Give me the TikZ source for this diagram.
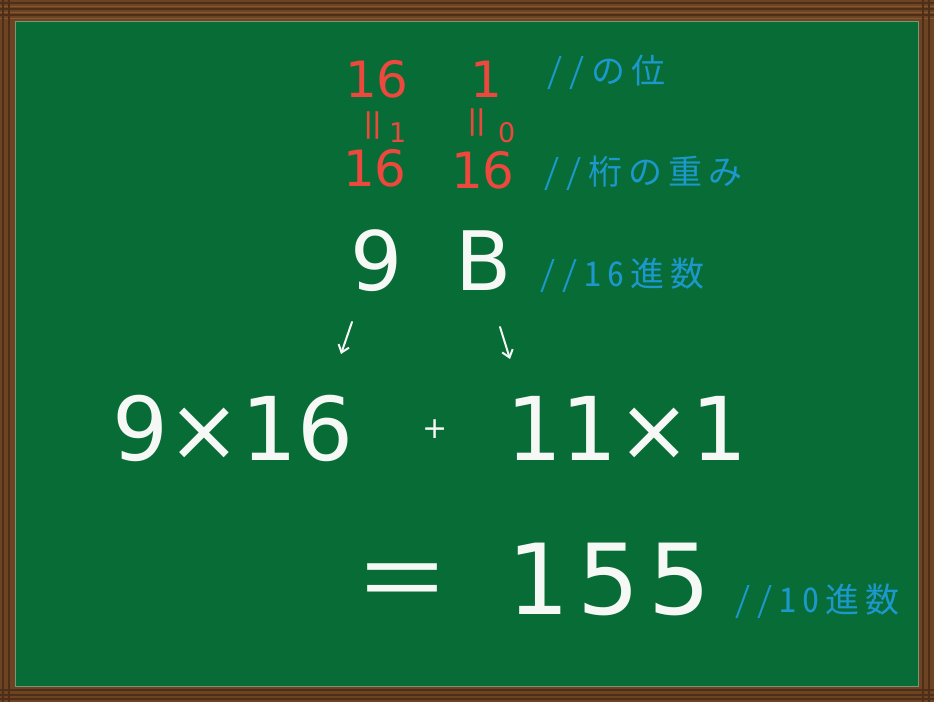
\documentclass[tikz,border=0pt]{standalone}
\usepackage{fontspec}
\setmainfont{DejaVu Sans}
\newfontfamily\jpfont{Noto Sans CJK JP}[CharacterWidth=Half, LetterSpace=17.6]
\newfontfamily\jpfull{Noto Sans CJK JP}
\newfontfamily\widedigits{DejaVu Sans}[LetterSpace=8.5]
\usetikzlibrary{arrows.meta}
\definecolor{board}{RGB}{8,108,54}
\definecolor{wood}{RGB}{108,68,36}
\definecolor{wooddark}{RGB}{78,46,22}
\definecolor{woodlight}{RGB}{134,88,50}
\definecolor{redc}{RGB}{236,72,62}
\definecolor{bluec}{RGB}{28,152,205}
\definecolor{chalk}{RGB}{245,248,245}
\tikzset{
  txt/.style={anchor=base west, inner sep=0pt, outer sep=0pt},
  redtxt/.style={txt, text=redc, font=\fontsize{50}{50}\selectfont},
  redsmall/.style={txt, text=redc, font=\fontsize{27}{27}\selectfont},
  redeq/.style={text=redc, inner sep=0pt, rotate=90, anchor=center, font=\jpfull\fontsize{38}{38}\selectfont},
  bluetxt/.style={txt, text=bluec, font=\jpfont\fontsize{34}{34}\selectfont},
  bigtxt/.style={txt, text=chalk, font=\fontsize{82}{82}\selectfont},
  hugetxt/.style={txt, text=chalk, font=\fontsize{88}{88}\selectfont},
  chalkarrow/.style={draw=chalk, line width=2pt, -{Straight Barb[length=7pt,width=11pt]}, line cap=round},
}
\begin{document}
\begin{tikzpicture}[x=1pt,y=-1pt]
\useasboundingbox (0,0) rectangle (934,702);
% frame
\fill[wood] (0,0) rectangle (934,702);
\foreach \yy in {3,9,15} {\draw[wooddark, line width=1.2pt] (0,\yy) -- (934,\yy);}
\foreach \yy in {6,12,18} {\draw[woodlight, line width=1pt] (0,\yy) -- (934,\yy);}
\foreach \yy in {690,695,699} {\draw[wooddark, line width=1.2pt] (0,\yy) -- (934,\yy);}
\foreach \xx in {3,9} {\draw[wooddark, line width=1.2pt] (\xx,0) -- (\xx,702);}
\foreach \xx in {923,929} {\draw[wooddark, line width=1.2pt] (\xx,0) -- (\xx,702);}
\fill[board] (15,21) rectangle (918,686);
\draw[draw={rgb,255:red,120;green,150;blue,120}, line width=1pt] (15,21) rectangle (918,686);
% red weights
\node[redtxt] (r16) at (345,97) {16};
\node[redtxt] (r1) at (470,97) {1};
\node[redeq] (eqa) at (377,125) {＝};
\node[redsmall] (e1) at (389,142) {1};
\node[redeq] (eqb) at (481,122) {＝};
\node[redsmall] (e0) at (498,142) {0};
\node[redtxt] (b16a) at (343,186) {16};
\node[redtxt] (b16b) at (451,188) {16};
% blue comments
\node[bluetxt] (c1) at (546,83) {//の位};
\node[bluetxt] (c2) at (543,184) {//桁の重み};
\node[bluetxt] (c3) at (539,286) {//16進数};
\node[bluetxt] (c4) at (734,612) {//10進数};
% hex digits
\node[bigtxt] (n9) at (350,290) {9};
\node[bigtxt] (nB) at (455,290) {B};
% arrows
\coordinate (a1s) at (352,322);
\coordinate (a1e) at (341,354);
\coordinate (a2s) at (500,327);
\coordinate (a2e) at (510,359);
\draw[chalkarrow] (a1s) -- (a1e);
\draw[chalkarrow] (a2s) -- (a2e);
% products
\node[hugetxt] (p1) at (112,460) {9×16};
\node[txt, text=chalk, font=\fontsize{30}{30}\selectfont] (plus) at (422,438) {+};
\node[hugetxt] (p2) at (506,460) {11×1};
% result
\node[txt, text=chalk, font=\jpfull\fontsize{96}{96}\selectfont] (eq) at (354,614) {＝};
\node[txt, text=chalk, font=\widedigits\fontsize{98}{98}\selectfont] (res) at (507,614) {155};
\end{tikzpicture}
\end{document}
